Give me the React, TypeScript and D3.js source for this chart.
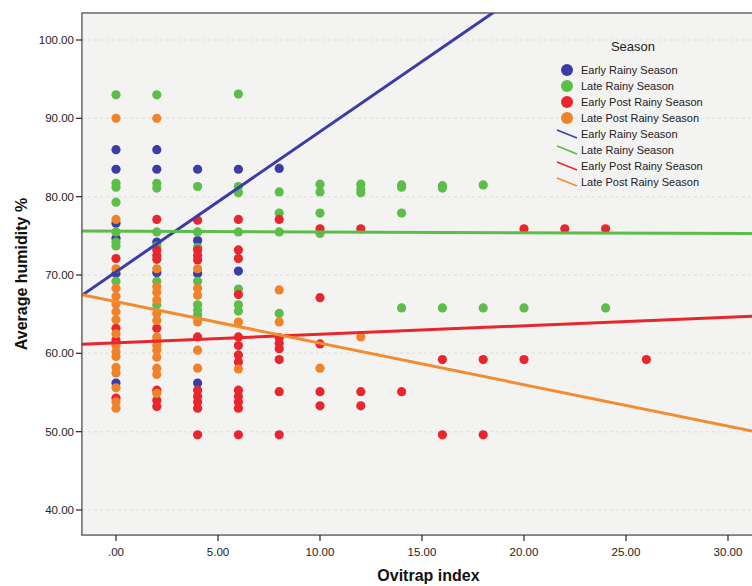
import * as d3 from "d3";

// season names + colours
const seasons = [
  "Early Rainy Season",
  "Late Rainy Season",
  "Early Post Rainy Season",
  "Late Post Rainy Season",
];
const dotColors = ["#3c3ca6", "#5cbd48", "#e8262c", "#f0832a"];
const lineColors = ["#3c3ca6", "#5cbd48", "#e8262c", "#f28c2e"];

// [ovitrap index, average humidity]
const earlyRainy = [
  [0, 86.0], [0, 83.5], [0, 76.6], [0, 74.7], [0, 70.2], [0, 56.2],
  [2, 86.0], [2, 83.5], [2, 74.2], [2, 70.3],
  [4, 83.5], [4, 74.4], [4, 70.2], [4, 56.2],
  [6, 83.5], [6, 70.5],
  [8, 83.6],
];
const lateRainy = [
  [0, 93.0], [0, 81.7], [0, 81.2], [0, 79.3], [0, 75.5], [0, 74.2], [0, 73.7], [0, 69.2],
  [2, 93.0], [2, 81.7], [2, 81.1], [2, 75.5], [2, 73.7], [2, 69.2], [2, 66.2],
  [4, 81.3], [4, 75.5], [4, 73.5], [4, 69.2], [4, 66.2], [4, 65.5], [4, 64.9],
  [6, 93.1], [6, 81.3], [6, 80.5], [6, 75.5], [6, 68.2], [6, 66.2], [6, 65.4],
  [8, 80.6], [8, 77.9], [8, 75.5], [8, 65.1],
  [10, 81.6], [10, 80.6], [10, 77.9], [10, 75.3],
  [12, 81.6], [12, 80.9], [12, 80.5],
  [14, 81.5], [14, 81.2], [14, 77.9], [14, 65.8],
  [16, 81.4], [16, 81.1], [16, 65.8],
  [18, 81.5], [18, 65.8],
  [20, 65.8],
  [24, 65.8],
];
const earlyPostRainy = [
  [0, 72.1], [0, 63.2], [0, 61.7], [0, 54.3],
  [2, 77.1], [2, 73.2], [2, 72.5], [2, 72.0], [2, 63.2], [2, 61.6], [2, 55.3], [2, 54.0], [2, 53.2],
  [4, 77.0], [4, 73.2], [4, 72.5], [4, 71.9], [4, 62.1], [4, 55.3], [4, 54.5], [4, 53.8], [4, 53.0], [4, 49.6],
  [6, 77.1], [6, 73.2], [6, 72.1], [6, 67.5], [6, 62.1], [6, 61.0], [6, 59.8], [6, 58.9],
  [6, 55.3], [6, 54.5], [6, 53.8], [6, 53.0], [6, 49.6],
  [8, 77.1], [8, 62.0], [8, 61.3], [8, 60.6], [8, 59.2], [8, 55.1], [8, 49.6],
  [10, 75.9], [10, 67.1], [10, 61.2], [10, 55.1], [10, 53.3],
  [12, 75.9], [12, 55.1], [12, 53.3],
  [14, 55.1],
  [16, 59.2], [16, 49.6],
  [18, 59.2], [18, 49.6],
  [20, 75.9], [20, 59.2],
  [22, 75.9],
  [24, 75.9],
  [26, 59.2],
];
const latePostRainy = [
  [0, 90.0], [0, 77.1], [0, 70.8], [0, 68.3], [0, 67.3], [0, 66.3], [0, 65.3], [0, 64.3],
  [0, 62.5], [0, 61.0], [0, 60.2], [0, 59.6], [0, 58.2], [0, 57.5], [0, 55.6], [0, 53.8], [0, 53.0],
  [2, 90.0], [2, 70.8], [2, 68.5], [2, 67.8], [2, 66.8], [2, 65.1], [2, 64.2], [2, 62.1],
  [2, 61.0], [2, 60.4], [2, 59.5], [2, 58.1], [2, 57.3], [2, 54.9],
  [4, 70.8], [4, 68.3], [4, 67.4], [4, 64.0], [4, 60.4], [4, 58.1],
  [6, 64.0], [6, 58.0],
  [8, 68.1], [8, 64.0],
  [10, 58.1],
  [12, 62.1],
];
const seriesPoints = [earlyRainy, lateRainy, earlyPostRainy, latePostRainy];

// fit lines: intercept, slope
const fitIntercepts = [70.4, 75.6, 61.34, 66.6];
const fitSlopes = [1.79, -0.01, 0.109, -0.53];

const xTicks = [0, 5, 10, 15, 20, 25, 30];
const yTicks = [40, 50, 60, 70, 80, 90, 100];

const font = "'Liberation Sans', Arial, sans-serif";

export default function App() {
  const width = 752;
  const height = 586;

  const xScale = d3.scaleLinear().domain([0, 30]).range([116, 728]);
  const yScale = d3.scaleLinear().domain([40, 100]).range([510, 40]);

  // plot area edges (right side runs past the picture)
  const xMin = -1.67;
  const xMax = 32.3;
  const yMin = 36.8;
  const yMax = 103.45;
  const left = xScale(xMin);
  const right = xScale(xMax);
  const top = yScale(yMax);
  const bottom = yScale(yMin);

  const fmt = (v) => (v === 0 ? ".00" : d3.format(".2f")(v));

  const line = d3
    .line()
    .x((d) => xScale(d[0]))
    .y((d) => yScale(d[1]));

  return (
    <svg
      width={width}
      height={height}
      style={{ position: "absolute", left: 0, top: 0, background: "#fff" }}
    >
      <defs>
        <clipPath id="plot">
          <rect x={left} y={top} width={right - left} height={bottom - top} />
        </clipPath>
      </defs>

      {/* plot background */}
      <rect x={left} y={top} width={right - left} height={bottom - top} fill="#f3f3f2" />

      {/* faint gridlines */}
      {yTicks.map((t) => (
        <line
          key={"g" + t}
          x1={left}
          x2={right}
          y1={yScale(t)}
          y2={yScale(t)}
          stroke="#e4e4e4"
          strokeWidth={1.5}
          strokeDasharray="3,3"
        />
      ))}

      {/* points */}
      <g clipPath="url(#plot)">
        {seriesPoints.map((pts, i) =>
          pts.map((d, j) => (
            <circle
              key={i + "-" + j}
              cx={xScale(d[0])}
              cy={yScale(d[1])}
              r={4.6}
              fill={dotColors[i]}
            />
          ))
        )}
        {/* fit lines */}
        {fitIntercepts.map((b, i) => (
          <path
            key={"fit" + i}
            d={line([
              [xMin, b + fitSlopes[i] * xMin],
              [xMax, b + fitSlopes[i] * xMax],
            ])}
            fill="none"
            stroke={lineColors[i]}
            strokeWidth={3}
          />
        ))}
      </g>

      {/* frame */}
      <rect
        x={left}
        y={top}
        width={right - left}
        height={bottom - top}
        fill="none"
        stroke="#444"
        strokeWidth={1.2}
      />

      {/* y axis */}
      {yTicks.map((t) => (
        <g key={"y" + t}>
          <line x1={left - 6} x2={left} y1={yScale(t)} y2={yScale(t)} stroke="#333" strokeWidth={1.3} />
          <text
            x={left - 8}
            y={yScale(t)}
            dy="0.35em"
            textAnchor="end"
            fontFamily={font}
            fontSize={11.5}
            fill="#222"
          >
            {fmt(t)}
          </text>
        </g>
      ))}

      {/* x axis */}
      {xTicks.map((t) => (
        <g key={"x" + t}>
          <line x1={xScale(t)} x2={xScale(t)} y1={bottom} y2={bottom + 6} stroke="#333" strokeWidth={1.3} />
          <text
            x={xScale(t)}
            y={bottom + 21}
            textAnchor="middle"
            fontFamily={font}
            fontSize={11.5}
            fill="#222"
          >
            {fmt(t)}
          </text>
        </g>
      ))}

      {/* axis titles, centred on the plot area */}
      <text
        transform={`translate(27,${(top + bottom) / 2}) rotate(-90)`}
        textAnchor="middle"
        fontFamily={font}
        fontWeight="bold"
        fontSize={16}
        fill="#111"
      >
        Average humidity %
      </text>
      <text
        x={(left + right) / 2}
        y={581}
        textAnchor="middle"
        fontFamily={font}
        fontWeight="bold"
        fontSize={16}
        fill="#111"
      >
        Ovitrap index
      </text>

      {/* legend */}
      <text x={633} y={51} textAnchor="middle" fontFamily={font} fontSize={13} fill="#222">
        Season
      </text>
      {seasons.map((s, i) => (
        <g key={"ld" + i}>
          <circle cx={567} cy={70 + i * 16} r={6} fill={dotColors[i]} />
          <text x={581} y={70 + i * 16} dy="0.35em" fontFamily={font} fontSize={11} fill="#222">
            {s}
          </text>
        </g>
      ))}
      {seasons.map((s, i) => (
        <g key={"ll" + i}>
          <line
            x1={557}
            y1={130 + i * 16}
            x2={577}
            y2={138 + i * 16}
            stroke={lineColors[i]}
            strokeWidth={1.5}
          />
          <text x={581} y={134 + i * 16} dy="0.35em" fontFamily={font} fontSize={11} fill="#222">
            {s}
          </text>
        </g>
      ))}
    </svg>
  );
}
